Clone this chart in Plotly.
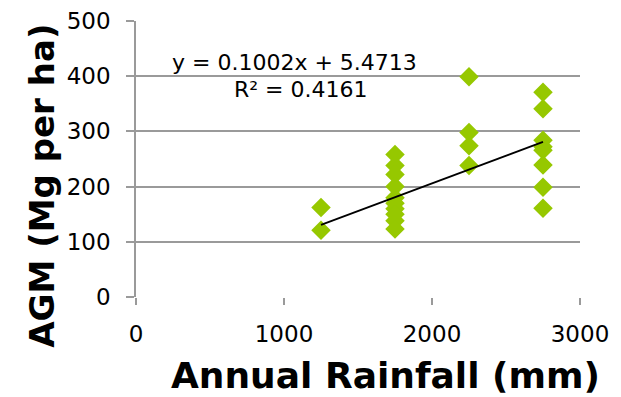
import plotly.graph_objects as go

rainfall_1250 = [1250, 1250]
agm_1250 = [162, 121]
rainfall_1750 = [1750] * 10
agm_1750 = [258, 238, 222, 200, 180, 170, 160, 150, 138, 123]
rainfall_2250 = [2250] * 4
agm_2250 = [399, 298, 274, 238]
rainfall_2750 = [2750] * 8
agm_2750 = [371, 341, 284, 272, 266, 239, 199, 161]

x_vals = rainfall_1250 + rainfall_1750 + rainfall_2250 + rainfall_2750
y_vals = agm_1250 + agm_1750 + agm_2250 + agm_2750

slope = 0.1002
intercept = 5.4713
trend_x = [min(x_vals), max(x_vals)]
trend_y = [slope * v + intercept for v in trend_x]

x_ticks = [0, 1000, 2000, 3000]
y_ticks = [0, 100, 200, 300, 400, 500]

x_title = "Annual Rainfall (mm)"
y_title = "AGM (Mg per ha)"

font_family = "DejaVu Sans, Lato, sans-serif"

fig = go.Figure()
fig.add_trace(go.Scatter(
    x=x_vals, y=y_vals, mode="markers",
    marker=dict(symbol="diamond", size=15, color="#96c800", line=dict(width=0)),
    showlegend=False, hoverinfo="skip"))
fig.add_trace(go.Scatter(
    x=trend_x, y=trend_y, mode="lines",
    line=dict(color="black", width=1.8),
    showlegend=False, hoverinfo="skip"))

fig.add_annotation(x=1068, y=425, xref="x", yref="y",
                   text="y = 0.1002x + 5.4713", showarrow=False,
                   font=dict(family=font_family, size=22, color="black"))
fig.add_annotation(x=1115, y=376, xref="x", yref="y",
                   text="R² = 0.4161", showarrow=False,
                   font=dict(family=font_family, size=22, color="black"))

# axis titles
fig.add_annotation(x=0.563, y=-0.283, xref="paper", yref="paper",
                   xanchor="center", yanchor="middle",
                   text="<b>" + x_title + "</b>", showarrow=False,
                   font=dict(family=font_family, size=36, color="black"))
fig.add_annotation(x=-0.2106, y=0.405, xref="paper", yref="paper",
                   xanchor="center", yanchor="middle", textangle=-90,
                   text="<b>" + y_title + "</b>", showarrow=False,
                   font=dict(family=font_family, size=34, color="black"))

fig.update_layout(
    width=613, height=389,
    margin=dict(l=128, r=41, t=13, b=100),
    paper_bgcolor="white", plot_bgcolor="white",
    font=dict(family=font_family, color="black"),
    xaxis=dict(range=[0, 3000], tickvals=x_ticks, ticktext=[str(v) for v in x_ticks],
               automargin=False,
               showgrid=False, zeroline=False, showline=False,
               ticks="outside", ticklen=7, tickcolor="#9a9a9a", tickwidth=1.5,
               ticklabelstandoff=9,
               tickfont=dict(size=23, family=font_family)),
    yaxis=dict(range=[0, 500], tickvals=y_ticks, ticktext=[str(v) for v in y_ticks],
               automargin=False,
               showgrid=True, gridcolor="#9a9a9a", gridwidth=1.5,
               zeroline=False, showline=True, linecolor="#9a9a9a", linewidth=1.5,
               ticks="outside", ticklen=8, tickcolor="#9a9a9a", tickwidth=1.5,
               ticklabelstandoff=11,
               tickfont=dict(size=23, family=font_family)),
)

fig.write_html("out.html")
